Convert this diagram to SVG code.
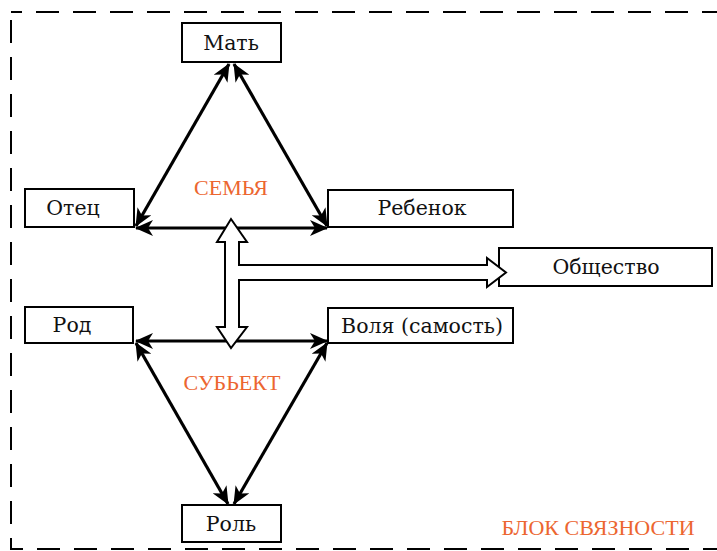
<svg xmlns="http://www.w3.org/2000/svg" width="717" height="551" viewBox="0 0 717 551">
<style>
.box{fill:#fff;stroke:#000;stroke-width:2}
.t{font-family:"DejaVu Serif","Liberation Serif",serif;font-size:20.5px;fill:#111;text-anchor:middle}
.o{font-family:"Liberation Serif","DejaVu Serif",serif;font-size:22px;fill:#EC6630;text-anchor:middle}
.ln{stroke:#000;stroke-width:3.2;fill:none;marker-start:url(#ah);marker-end:url(#ah)}
</style>
<defs>
<marker id="ah" markerUnits="userSpaceOnUse" markerWidth="20" markerHeight="16" refX="17" refY="8" orient="auto-start-reverse">
<path d="M0,0 L18,8 L0,16 L5,8 Z" fill="#000"/>
</marker>
</defs>
<rect x="11" y="12" width="712" height="537" fill="none" stroke="#000" stroke-width="2" stroke-dasharray="23 14" stroke-dashoffset="12"/>
<g id="connectors">
<line class="ln" x1="229" y1="64" x2="136" y2="226"/>
<line class="ln" x1="234" y1="64" x2="327" y2="226"/>
<line class="ln" x1="136" y1="228" x2="327" y2="228"/>
<line class="ln" x1="136" y1="341" x2="327" y2="341"/>
<line class="ln" x1="136" y1="343" x2="228" y2="504"/>
<line class="ln" x1="327" y1="343" x2="234" y2="504"/>
</g>
<g id="mat"><rect class="box" x="182" y="23" width="99" height="39"/><text class="t" x="231" y="50">Мать</text></g>
<g id="otec"><rect class="box" x="25" y="189" width="109" height="38"/><text class="t" x="73" y="215">Отец</text></g>
<g id="rebenok"><rect class="box" x="328" y="190" width="185" height="37"/><text class="t" x="422" y="215">Ребенок</text></g>
<g id="obshchestvo"><rect class="box" x="499" y="248" width="213" height="38"/><text class="t" x="606" y="274">Общество</text></g>
<g id="rod"><rect class="box" x="25" y="307" width="108" height="36"/><text class="t" x="72" y="332">Род</text></g>
<g id="volya"><rect class="box" x="328" y="308" width="185" height="35"/><text class="t" x="422" y="333">Воля (самость)</text></g>
<g id="rol"><rect class="box" x="182" y="505" width="99" height="37"/><text class="t" x="231" y="531">Роль</text></g>
<g id="block-arrow">
<path d="M231,219 L247,242 L239,242 L239,265 L487,265 L487,258 L506,272.5 L487,287 L487,280 L239,280 L239,327 L247,327 L231,348 L217,327 L225,327 L225,242 L217,242 Z" fill="#fff" stroke="#000" stroke-width="2" stroke-linejoin="miter"/>
</g>
<g id="labels">
<text class="o" x="231" y="195">СЕМЬЯ</text>
<text class="o" x="232" y="390">СУБЬЕКТ</text>
<text class="o" x="598" y="535">БЛОК СВЯЗНОСТИ</text>
</g>
</svg>
